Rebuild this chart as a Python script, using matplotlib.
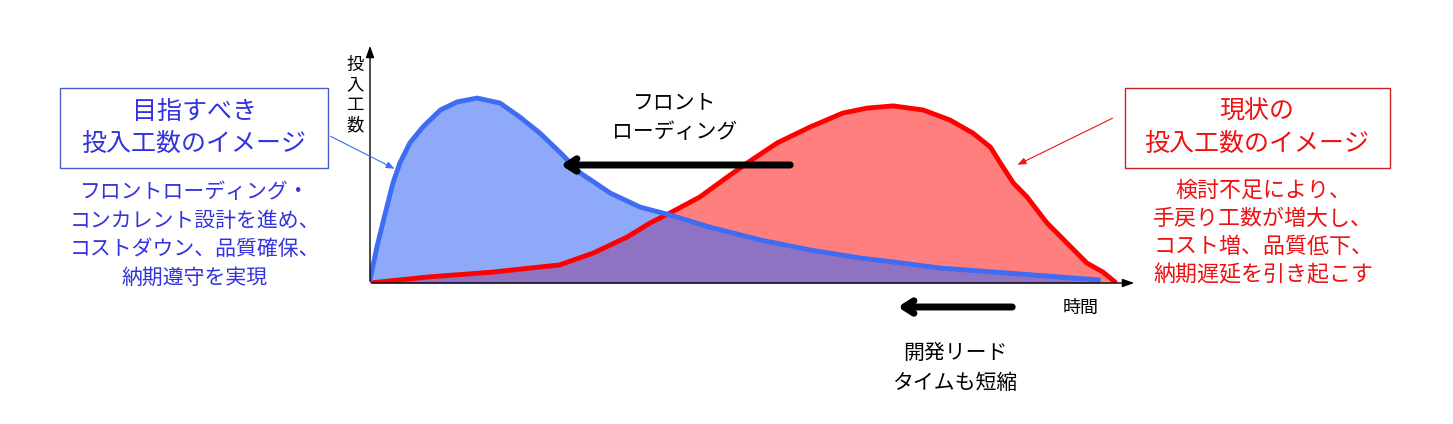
import matplotlib.pyplot as plt
from matplotlib.patches import Rectangle

plt.rcParams['font.family'] = ['Noto Sans CJK JP', 'DejaVu Sans']

# 目指すべき投入工数 (blue) : time -> effort
blue_t = [0, 0.9, 2.0, 3.0, 3.9, 5.2, 6.9, 9.2, 11.4, 14.0, 17.0, 19.6, 22.2, 24.8, 27.5,
          31.4, 35.3, 39.2, 44.4, 51.0, 57.5, 64.1, 68.0, 74.5, 83.3, 95.2]
blue_v = [1.3, 15.1, 29.4, 42.0, 50.4, 58.8, 65.5, 72.7, 76.1, 77.7, 75.6, 69.7, 63.0, 55.0, 46.2,
          37.8, 31.9, 28.6, 23.5, 18.1, 13.9, 10.5, 9.0, 6.3, 4.2, 1.3]

# 現状の投入工数 (red)
red_t = [0, 7.5, 16.1, 24.8, 29.2, 33.6, 36.6, 39.2, 43.1, 46.7, 49.3, 53.2, 57.5, 61.8,
         65.0, 68.4, 72.3, 75.8, 78.8, 81.1, 82.4, 84.1, 85.9, 88.5, 91.1, 93.7, 95.8, 97.4]
red_v = [0, 2.5, 4.6, 7.6, 12.6, 19.3, 25.2, 29.4, 36.1, 44.5, 50.4, 58.8, 65.5, 71.4,
         73.5, 74.4, 72.7, 68.5, 63.0, 57.1, 50.4, 42.0, 36.1, 25.2, 16.8, 8.4, 4.6, 0.4]

left_title = "目指すべき\n投入工数のイメージ"
left_text = "フロントローディング・\nコンカレント設計を進め、\nコストダウン、品質確保、\n納期遵守を実現"
right_title = "現状の\n投入工数のイメージ"
right_text = "検討不足により、\n手戻り工数が増大し、\nコスト増、品質低下、\n納期遅延を引き起こす"

W, H = 1453, 424
fig = plt.figure(figsize=(W / 100, H / 100), dpi=100)

# chart area (pixel box 370..1135 x, 45..283 y)
ax = fig.add_axes([370 / W, (H - 283) / H, (1135 - 370) / W, (283 - 45) / H])
ax.set_xlim(0, 100)
ax.set_ylim(0, 100)
ax.axis('off')

ax.fill_between(red_t, red_v, 0, color='#FF7F7F', lw=0)
ax.plot(red_t, red_v, color='#FF0000', lw=3.5, solid_joinstyle='round', solid_capstyle='round')
ax.fill_between(blue_t, blue_v, 0, color=(58 / 255, 105 / 255, 245 / 255), alpha=0.57, lw=0)
ax.plot(blue_t, blue_v, color='#3F6CF2', lw=3.5, solid_joinstyle='round')

# overlay in pixel units for annotations
ov = fig.add_axes([0, 0, 1, 1], facecolor='none')
ov.set_xlim(0, W)
ov.set_ylim(H, 0)
ov.axis('off')

# axes arrows
ov.annotate('', xy=(370, 43), xytext=(370, 284),
            arrowprops=dict(arrowstyle='-|>,head_length=0.7,head_width=0.25', lw=1, color='black'))
ov.annotate('', xy=(1137, 283), xytext=(369, 283),
            arrowprops=dict(arrowstyle='-|>,head_length=0.7,head_width=0.25', lw=1, color='black'))
ov.text(355, 95, "投\n入\n工\n数", ha='center', va='center', fontsize=12.5, linespacing=1.15)
ov.text(1081, 308, "時間", ha='center', va='center', fontsize=13)

# front loading arrow
ov.annotate('', xy=(558, 165), xytext=(793, 165),
            arrowprops=dict(arrowstyle='->,head_length=0.7,head_width=0.45', lw=5, color='black'))
ov.text(675, 117, "フロント\nローディング", ha='center', va='center', fontsize=15, linespacing=1.45)

# lead time arrow
ov.annotate('', xy=(895, 307), xytext=(1015, 307),
            arrowprops=dict(arrowstyle='->,head_length=0.7,head_width=0.45', lw=5, color='black'))
ov.text(955, 368, "開発リード\nタイムも短縮", ha='center', va='center', fontsize=15, linespacing=1.45)

# left box
blue_txt = '#3333DD'
ov.add_patch(Rectangle((60, 88), 268, 80, fill=False, edgecolor='#4A5FC8', lw=1))
ov.text(194, 128, left_title, ha='center', va='center', fontsize=18, color=blue_txt, linespacing=1.3)
ov.text(195, 235, left_text, ha='center', va='center', fontsize=15, color=blue_txt, linespacing=1.4)
ov.annotate('', xy=(397, 170), xytext=(328, 135),
            arrowprops=dict(arrowstyle='-|>,head_length=0.5,head_width=0.2', lw=0.8, color='#3F6CF2'))

# right box
red_txt = '#EE1111'
ov.add_patch(Rectangle((1125, 88), 265, 80, fill=False, edgecolor='#CC2222', lw=1))
ov.text(1257, 128, right_title, ha='center', va='center', fontsize=18, color=red_txt, linespacing=1.3)
ov.text(1263, 233, right_text, ha='center', va='center', fontsize=15.8, color=red_txt, linespacing=1.35)
ov.annotate('', xy=(1015, 166), xytext=(1115, 117),
            arrowprops=dict(arrowstyle='-|>,head_length=0.5,head_width=0.2', lw=0.8, color='#EE1111'))

fig.savefig('out.png', dpi=100)
